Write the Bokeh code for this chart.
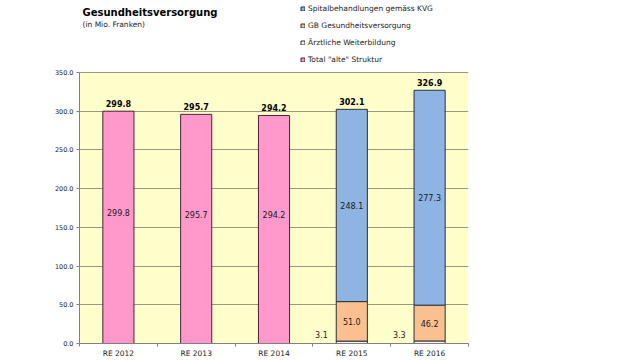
from bokeh.plotting import figure
from bokeh.models import (Range1d, FixedTicker, Label, Legend, LegendItem,
                          NumeralTickFormatter, ColumnDataSource, BoxAnnotation)
from bokeh.embed import file_html
from bokeh.resources import INLINE
from bokeh.core.properties import value

# ---------------- data ----------------
categories = ["RE 2012", "RE 2013", "RE 2014", "RE 2015", "RE 2016"]
total_alte_struktur = [299.8, 295.7, 294.2, None, None]
aerztliche_weiterbildung = [None, None, None, 3.1, 3.3]
gb_gesundheitsversorgung = [None, None, None, 51.0, 46.2]
spitalbehandlungen_kvg = [None, None, None, 248.1, 277.3]
totals = [299.8, 295.7, 294.2, 302.1, 326.9]
y_ticks = [0, 50, 100, 150, 200, 250, 300, 350]

title_text = "Gesundheitsversorgung"
subtitle_text = "(in Mio. Franken)"
legend_labels = ["Spitalbehandlungen gemäss KVG", "GB Gesundheitsversorgung",
                 "Ärztliche Weiterbildung", 'Total "alte" Struktur']

# ---------------- style / layout ----------------
FONT = "DejaVu Sans"
PINK = "#FF99CC"
BLUE = "#8DB4E2"
PEACH = "#FAC090"
WHITE = "#F4F4F4"
EDGE = "#2E2E38"
PINK_EDGE = "#4A2238"
YELLOW = "#FFFFCC"
BAR_W = 0.4
Y_MAX = 350

W, H = 640, 360
LEFT, RIGHT, BOTTOM = 79, 468, 344   # plot area in page pixels
PLOT_TOP = 72
FRAME_H = BOTTOM                      # frame runs from page top to plot bottom
PLOT_H = BOTTOM - PLOT_TOP
PX = Y_MAX / PLOT_H                   # data units per pixel
Y_TOP = Y_MAX * FRAME_H / PLOT_H

n = len(categories)
xs = [i + 0.5 for i in range(n)]

def z(v):
    return 0.0 if v is None else v

a = [z(v) for v in aerztliche_weiterbildung]
g = [z(v) for v in gb_gesundheitsversorgung]
s = [z(v) for v in spitalbehandlungen_kvg]
a_top = a
g_top = [a[i] + g[i] for i in range(n)]
s_top = [a[i] + g[i] + s[i] for i in range(n)]

p = figure(width=W, height=H, output_backend="svg", toolbar_location=None,
           x_range=Range1d(0, n), y_range=Range1d(0, Y_TOP),
           min_border_left=LEFT, min_border_right=W - RIGHT,
           min_border_top=0, min_border_bottom=H - BOTTOM)
p.background_fill_color = "white"
p.border_fill_color = "white"
p.outline_line_color = None

# yellow plot area
p.add_layout(BoxAnnotation(left=0, right=n, bottom=0, top=Y_MAX,
                           fill_color=YELLOW, fill_alpha=1, line_color=None,
                           level="image"))

# axes
p.yaxis.ticker = FixedTicker(ticks=y_ticks)
p.yaxis.bounds = (0, Y_MAX)
p.yaxis.formatter = NumeralTickFormatter(format="0.0")
p.yaxis.major_tick_out = 3
p.yaxis.major_tick_in = 0
p.yaxis.minor_tick_out = 0
p.yaxis.minor_tick_in = 0
p.yaxis.axis_line_color = "#808080"
p.yaxis.major_tick_line_color = "#808080"
p.yaxis.major_label_text_font = FONT
p.yaxis.major_label_text_font_size = "6.5px"
p.yaxis.major_label_text_color = "#222222"
p.yaxis.major_label_standoff = 3

p.xaxis.ticker = FixedTicker(ticks=xs, minor_ticks=list(range(n + 1)))
p.xaxis.major_label_overrides = {x: c for x, c in zip(xs, categories)}
p.xaxis.major_tick_out = 0
p.xaxis.major_tick_in = 0
p.xaxis.minor_tick_out = 3
p.xaxis.minor_tick_in = 0
p.xaxis.minor_tick_line_color = "#808080"
p.xaxis.axis_line_color = "#808080"
p.xaxis.major_label_text_font = FONT
p.xaxis.major_label_text_font_size = "7.5px"
p.xaxis.major_label_text_color = "#222222"
p.xaxis.major_label_standoff = 2

p.xgrid.grid_line_color = None
p.ygrid.grid_line_color = "#9C9880"
p.ygrid.grid_line_width = 1

# bars
def sel(vals, bottoms, tops):
    idx = [i for i in range(n) if vals[i] is not None]
    return dict(x=[xs[i] for i in idx], bottom=[bottoms[i] for i in idx],
                top=[tops[i] for i in idx])

d_old = sel(total_alte_struktur, [0] * n, [z(v) for v in total_alte_struktur])
r_old = p.vbar(x="x", bottom="bottom", top="top", width=BAR_W,
               source=ColumnDataSource(d_old), fill_color=PINK,
               line_color=PINK_EDGE, line_width=1)
d_a = sel(aerztliche_weiterbildung, [0] * n, a_top)
r_a = p.vbar(x="x", bottom="bottom", top="top", width=BAR_W,
             source=ColumnDataSource(d_a), fill_color=WHITE,
             line_color=EDGE, line_width=1)
d_g = sel(gb_gesundheitsversorgung, a_top, g_top)
r_g = p.vbar(x="x", bottom="bottom", top="top", width=BAR_W,
             source=ColumnDataSource(d_g), fill_color=PEACH,
             line_color=EDGE, line_width=1)
d_s = sel(spitalbehandlungen_kvg, g_top, s_top)
r_s = p.vbar(x="x", bottom="bottom", top="top", width=BAR_W,
             source=ColumnDataSource(d_s), fill_color=BLUE,
             line_color=EDGE, line_width=1)

# inner labels
lx, ly, lt = [], [], []
for i in range(n):
    if total_alte_struktur[i] is not None:
        lx.append(xs[i]); ly.append(total_alte_struktur[i] * 0.565)
        lt.append(f"{total_alte_struktur[i]:.1f}")
    if gb_gesundheitsversorgung[i] is not None:
        lx.append(xs[i]); ly.append((a_top[i] + g_top[i]) / 2)
        lt.append(f"{gb_gesundheitsversorgung[i]:.1f}")
    if spitalbehandlungen_kvg[i] is not None:
        lx.append(xs[i]); ly.append((g_top[i] + s_top[i]) / 2)
        lt.append(f"{spitalbehandlungen_kvg[i]:.1f}")
p.text(x=lx, y=ly, text=lt, text_font=value(FONT), text_font_size="8px",
       text_align="center", text_baseline="middle", text_color="#1a1a1a")

# small segment labels (left of bar)
sx_, sy_, st_ = [], [], []
for i in range(n):
    if aerztliche_weiterbildung[i] is not None:
        sx_.append(xs[i] - 0.39); sy_.append(0)
        st_.append(f"{aerztliche_weiterbildung[i]:.1f}")
p.text(x=sx_, y=sy_, text=st_, text_font=value(FONT), text_font_size="8px",
       text_align="center", text_baseline="middle", y_offset=-9,
       text_color="#1a1a1a")

# totals on top
p.text(x=xs, y=totals, text=[f"{t:.1f}" for t in totals], text_font=value(FONT),
       text_font_size="8px", text_font_style="bold", text_align="center",
       text_baseline="middle", y_offset=-8, text_color="black")

# title / subtitle (inside the frame, above the plot area)
p.add_layout(Label(x=0, y=Y_MAX + (PLOT_TOP - 12) * PX, x_offset=3,
                   text=title_text, text_font=FONT, text_font_size="10px",
                   text_font_style="bold", text_baseline="middle",
                   text_color="black"))
p.add_layout(Label(x=0, y=Y_MAX + (PLOT_TOP - 24) * PX, x_offset=3,
                   text=subtitle_text, text_font=FONT, text_font_size="7.5px",
                   text_baseline="middle", text_color="#222222"))

# legend
legend = Legend(items=[LegendItem(label=legend_labels[0], renderers=[r_s]),
                       LegendItem(label=legend_labels[1], renderers=[r_g]),
                       LegendItem(label=legend_labels[2], renderers=[r_a]),
                       LegendItem(label=legend_labels[3], renderers=[r_old])],
                location=(221, FRAME_H - 61 - 4), orientation="vertical",
                glyph_width=5, glyph_height=5, label_standoff=3,
                label_height=10, spacing=7, padding=0, margin=0,
                label_text_font=FONT, label_text_font_size="7.5px",
                label_text_color="#222222",
                border_line_color=None, background_fill_alpha=0)
p.add_layout(legend)

open("out.html", "w").write(file_html(p, INLINE))
